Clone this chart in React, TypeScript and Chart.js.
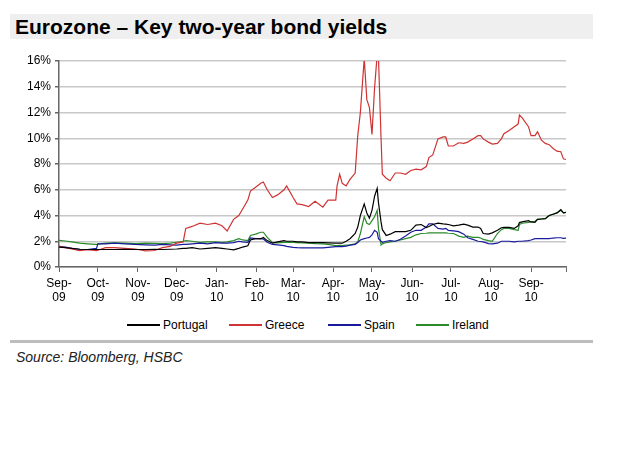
import React, { useEffect, useRef } from "react";
import { Chart, registerables } from "chart.js";

Chart.register(...registerables);

// Days since 1 Sep 2009
const dayOffsets = [0, 5, 10, 16, 22, 29, 30, 36, 43, 51, 59, 67, 74, 80, 86, 91, 96, 98, 103, 109, 115, 121, 126, 130, 135, 139, 142, 146, 148, 152, 156, 158, 161, 165, 169, 174, 176, 181, 184, 188, 193, 198, 204, 208, 214, 215, 217, 219, 222, 225, 229, 231, 233, 236, 238, 240, 242, 244, 246, 247, 249, 250, 253, 256, 260, 264, 268, 272, 276, 280, 284, 286, 289, 293, 297, 299, 301, 305, 309, 313, 316, 320, 324, 326, 328, 332, 335, 339, 342, 344, 348, 352, 355, 356, 358, 363, 365, 368, 370, 373, 376, 379, 382, 385, 388, 390, 392];

const portugal = [1.55, 1.5, 1.44, 1.38, 1.36, 1.36, 1.36, 1.36, 1.36, 1.38, 1.36, 1.36, 1.38, 1.36, 1.38, 1.4, 1.44, 1.45, 1.5, 1.4, 1.45, 1.5, 1.45, 1.4, 1.33, 1.45, 1.55, 1.65, 2.1, 2.2, 2.2, 2.3, 2.05, 1.85, 1.95, 2.05, 2.0, 2.0, 1.95, 1.95, 1.9, 1.9, 1.9, 1.88, 1.85, 1.85, 1.85, 1.85, 2.0, 2.2, 2.6, 3.1, 4.0, 4.9, 4.2, 3.8, 4.4, 5.5, 6.1, 5.0, 3.5, 2.9, 2.45, 2.55, 2.75, 2.75, 2.75, 2.85, 3.25, 3.3, 3.07, 3.15, 3.3, 3.4, 3.35, 3.33, 3.3, 3.2, 3.25, 3.33, 3.25, 3.1, 3.1, 3.0, 2.6, 2.55, 2.65, 2.85, 3.05, 3.07, 3.07, 3.0, 3.2, 3.45, 3.5, 3.6, 3.5, 3.47, 3.7, 3.73, 3.75, 4.0, 4.1, 4.2, 4.45, 4.2, 4.25];

const greece = [1.6, 1.5, 1.4, 1.28, 1.35, 1.28, 1.3, 1.5, 1.5, 1.45, 1.4, 1.25, 1.28, 1.5, 1.6, 1.85, 1.95, 3.0, 3.15, 3.4, 3.3, 3.4, 3.2, 2.8, 3.7, 4.0, 4.5, 5.2, 5.9, 6.2, 6.5, 6.6, 6.0, 5.4, 5.6, 6.0, 6.3, 5.4, 4.9, 4.85, 4.7, 5.1, 4.65, 5.2, 5.2, 6.3, 7.2, 6.5, 6.3, 6.8, 7.3, 10.2, 12.0, 16.2, 13.0, 12.4, 10.3, 13.9, 16.5, 16.3, 10.0, 7.2, 6.9, 6.7, 7.3, 7.3, 7.2, 7.5, 7.6, 7.55, 7.8, 8.5, 8.7, 9.95, 10.1, 10.1, 9.4, 9.4, 9.65, 9.6, 9.7, 9.95, 10.2, 10.2, 9.95, 9.7, 9.55, 9.6, 9.95, 10.35, 10.6, 10.9, 11.1, 11.8, 11.6, 10.9, 10.2, 10.2, 10.5, 9.85, 9.6, 9.5, 9.2, 9.0, 8.95, 8.4, 8.35];

const spain = [1.6, 1.55, 1.45, 1.38, 1.36, 1.44, 1.8, 1.8, 1.85, 1.8, 1.75, 1.72, 1.7, 1.75, 1.72, 1.7, 1.75, 1.75, 1.8, 1.85, 1.8, 1.9, 1.85, 1.85, 1.9, 2.0, 1.95, 1.92, 2.26, 2.2, 2.18, 2.18, 1.92, 1.75, 1.72, 1.66, 1.6, 1.53, 1.5, 1.48, 1.48, 1.48, 1.48, 1.52, 1.58, 1.58, 1.6, 1.58, 1.62, 1.7, 1.75, 1.9, 2.1, 2.2, 2.25, 2.3, 2.5, 2.85, 2.7, 2.2, 2.0, 1.92, 2.0, 2.05, 2.0, 2.15, 2.4, 2.7, 2.85, 2.85, 3.1, 3.35, 3.35, 3.0, 2.95, 3.0, 2.85, 2.8, 2.75, 2.55, 2.27, 2.15, 2.0, 1.98, 1.95, 1.82, 1.8, 1.85, 2.0, 2.0, 2.0, 1.95, 2.0, 2.0, 2.0, 2.05, 2.1, 2.2, 2.2, 2.2, 2.2, 2.2, 2.25, 2.27, 2.27, 2.22, 2.25];

const ireland = [2.07, 2.02, 1.95, 1.85, 1.8, 1.75, 1.78, 1.85, 1.88, 1.85, 1.82, 1.85, 1.83, 1.82, 1.85, 1.92, 2.0, 2.05, 2.0, 1.92, 1.95, 1.95, 1.92, 1.95, 2.05, 2.2, 2.1, 2.05, 2.45, 2.55, 2.7, 2.7, 2.3, 1.9, 1.88, 1.92, 1.92, 1.92, 1.9, 1.88, 1.85, 1.82, 1.8, 1.75, 1.66, 1.66, 1.68, 1.66, 1.7, 1.72, 1.8, 1.95, 2.6, 3.9, 3.4, 3.3, 3.6, 3.9, 4.4, 3.0, 1.7, 1.8, 1.9, 1.95, 2.0, 2.1, 2.2, 2.3, 2.5, 2.6, 2.62, 2.65, 2.65, 2.65, 2.65, 2.65, 2.62, 2.6, 2.4, 2.3, 2.4, 2.3, 2.3, 2.25, 2.15, 2.05, 2.0, 2.6, 2.9, 3.0, 3.0, 2.9, 2.85, 3.3, 3.4, 3.47, 3.5, 3.55, 3.7, 3.73, 3.75, 4.0, 4.1, 4.2, 4.4, 4.2, 4.25];

const monthTicks = [0, 30, 61, 91, 122, 153, 181, 212, 242, 273, 303, 334, 365];
const monthLabels = ["Sep-|09", "Oct-|09", "Nov-|09", "Dec-|09", "Jan-|10", "Feb-|10", "Mar-|10", "Apr-|10", "May-|10", "Jun-|10", "Jul-|10", "Aug-|10", "Sep-|10"];
const axisEnd = 392;

const seriesNames = ["Portugal", "Greece", "Spain", "Ireland"];
const seriesColors = ["#000000", "#cf3333", "#1a1a9c", "#2a8a2a"];

const FONT = "Arial, 'Liberation Sans', sans-serif";

export default function App() {
  const canvasRef = useRef<HTMLCanvasElement | null>(null);

  useEffect(() => {
    const canvas = canvasRef.current;
    if (!canvas) return;
    const seriesValues = [portugal, greece, spain, ireland];
    const chart = new Chart(canvas, {
      type: "line",
      data: {
        datasets: seriesNames.map((name, i) => ({
          label: name,
          data: dayOffsets.map((d, j) => ({ x: d, y: seriesValues[i][j] })),
          borderColor: seriesColors[i],
          backgroundColor: seriesColors[i],
          borderWidth: 1.2,
          pointRadius: 0,
          tension: 0,
          fill: false,
        })),
      },
      options: {
        animation: false,
        responsive: false,
        maintainAspectRatio: false,
        layout: { padding: { top: 16, right: 59, left: 0, bottom: 0 } },
        plugins: {
          tooltip: { enabled: false },
          legend: { display: false },
        },
        scales: {
          x: {
            type: "linear",
            min: 0,
            max: axisEnd,
            afterBuildTicks: (scale: any) => {
              scale.ticks = [...monthTicks, axisEnd].map((v) => ({ value: v }));
            },
            afterFit: (scale: any) => {
              scale.height = 40;
            },
            grid: {
              drawOnChartArea: false,
              drawTicks: true,
              tickLength: 5,
              color: "#666",
              lineWidth: 1,
            },
            border: { display: true, color: "#666", width: 1.5 },
            ticks: {
              autoSkip: false,
              maxRotation: 0,
              minRotation: 0,
              padding: 4,
              color: "#000",
              font: { family: FONT, size: 12 },
              callback: (value: any) => {
                const idx = monthTicks.indexOf(Number(value));
                return idx >= 0 ? monthLabels[idx].split("|") : "";
              },
            },
          },
          y: {
            min: 0,
            max: 16,
            afterFit: (scale: any) => {
              scale.width = 59;
            },
            grid: {
              color: "#c8c8c8",
              lineWidth: 1.5,
              drawTicks: true,
              tickLength: 4,
              tickColor: "#666",
            },
            border: { display: true, color: "#666", width: 1.5 },
            ticks: {
              stepSize: 2,
              padding: 4,
              color: "#000",
              font: { family: FONT, size: 12 },
              callback: (value: any) => `${value}%`,
            },
          },
        },
      },
    });
    return () => chart.destroy();
  }, []);

  const legendLeft = [127, 229, 328, 416];

  return (
    <div style={{ position: "absolute", left: 0, top: 0, width: 625, height: 463, background: "#fff", fontFamily: FONT }}>
      <div
        style={{
          position: "absolute",
          left: 10,
          top: 14,
          width: 583,
          height: 25,
          background: "#efefef",
        }}
      >
        <div style={{ position: "absolute", left: 5, top: 0, fontWeight: "bold", fontSize: 21, lineHeight: "26px", color: "#000", whiteSpace: "nowrap" }}>
          Eurozone – Key two-year bond yields
        </div>
      </div>
      <canvas
        ref={canvasRef}
        width={625}
        height={262}
        style={{ position: "absolute", left: 0, top: 45, width: 625, height: 262 }}
      />
      {seriesNames.map((name, i) => (
        <div
          key={name}
          style={{ position: "absolute", left: legendLeft[i], top: 318, height: 14, display: "flex", alignItems: "center", whiteSpace: "nowrap" }}
        >
          <div style={{ width: 33, height: 1.3, background: seriesColors[i] }} />
          <span style={{ marginLeft: 3, fontSize: 12, lineHeight: "14px", color: "#000" }}>{name}</span>
        </div>
      ))}
      <div style={{ position: "absolute", left: 10, top: 340, width: 583, height: 3, background: "#bdbdbd" }} />
      <div style={{ position: "absolute", left: 16, top: 349, fontStyle: "italic", fontSize: 14, color: "#222", whiteSpace: "nowrap" }}>
        Source: Bloomberg, HSBC
      </div>
    </div>
  );
}
